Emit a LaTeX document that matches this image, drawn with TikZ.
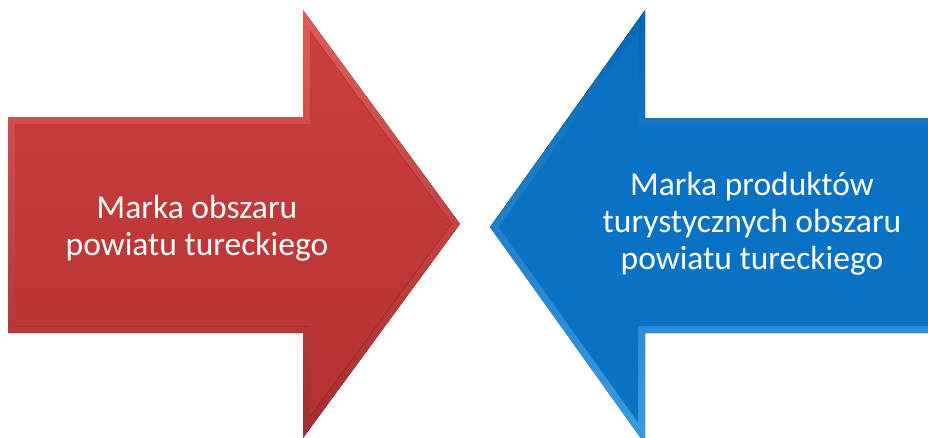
\documentclass[tikz,border=0pt]{standalone}
\usepackage{fontspec}
\setmainfont{Carlito}
\usetikzlibrary{positioning}

\definecolor{redmain}{HTML}{CA3F3D}
\definecolor{reddark}{HTML}{B53232}
\definecolor{redlight}{HTML}{E25A58}
\definecolor{bluemain}{HTML}{0A72C4}
\definecolor{bluedark}{HTML}{0566B4}
\definecolor{bluelight}{HTML}{3B9BE2}

\begin{document}
\begin{tikzpicture}[x=1pt,y=-1pt,
    label/.style={text=white, align=center, font=\fontsize{33.5}{37}\selectfont}]
    \useasboundingbox (0,0) rectangle (928,437);
    
    % Red arrow (bevel)
    \fill[top color=redlight, bottom color=reddark!90!black]
        (8,117) -- (303,117) -- (303,10) -- (460,224) -- (303,438) -- (303,333) -- (8,333) -- cycle;
    \fill[top color=redmain, bottom color=reddark]
        (15,124) -- (310,124) -- (310,31.4) -- (451.3,224) -- (310,416.6) -- (310,326) -- (15,326) -- cycle;
    
    % Blue arrow (bevel)
    \fill[top color=bluedark, bottom color=bluelight]
        (490,227) -- (645,10) -- (645,118) -- (940,118) -- (940,333) -- (645,333) -- (645,444) -- cycle;
    \fill[bluemain]
        (498.6,227) -- (638,31.7) -- (638,125) -- (940,125) -- (940,326) -- (638,326) -- (638,422.3) -- cycle;
    
    % Labels
    \node[label] (markaobszaru) at (197,228) {Marka obszaru\\powiatu tureckiego};
    \node[label] (markaproduktow) at (752,224) {Marka produktów\\turystycznych obszaru\\powiatu tureckiego};
\end{tikzpicture}
\end{document}
